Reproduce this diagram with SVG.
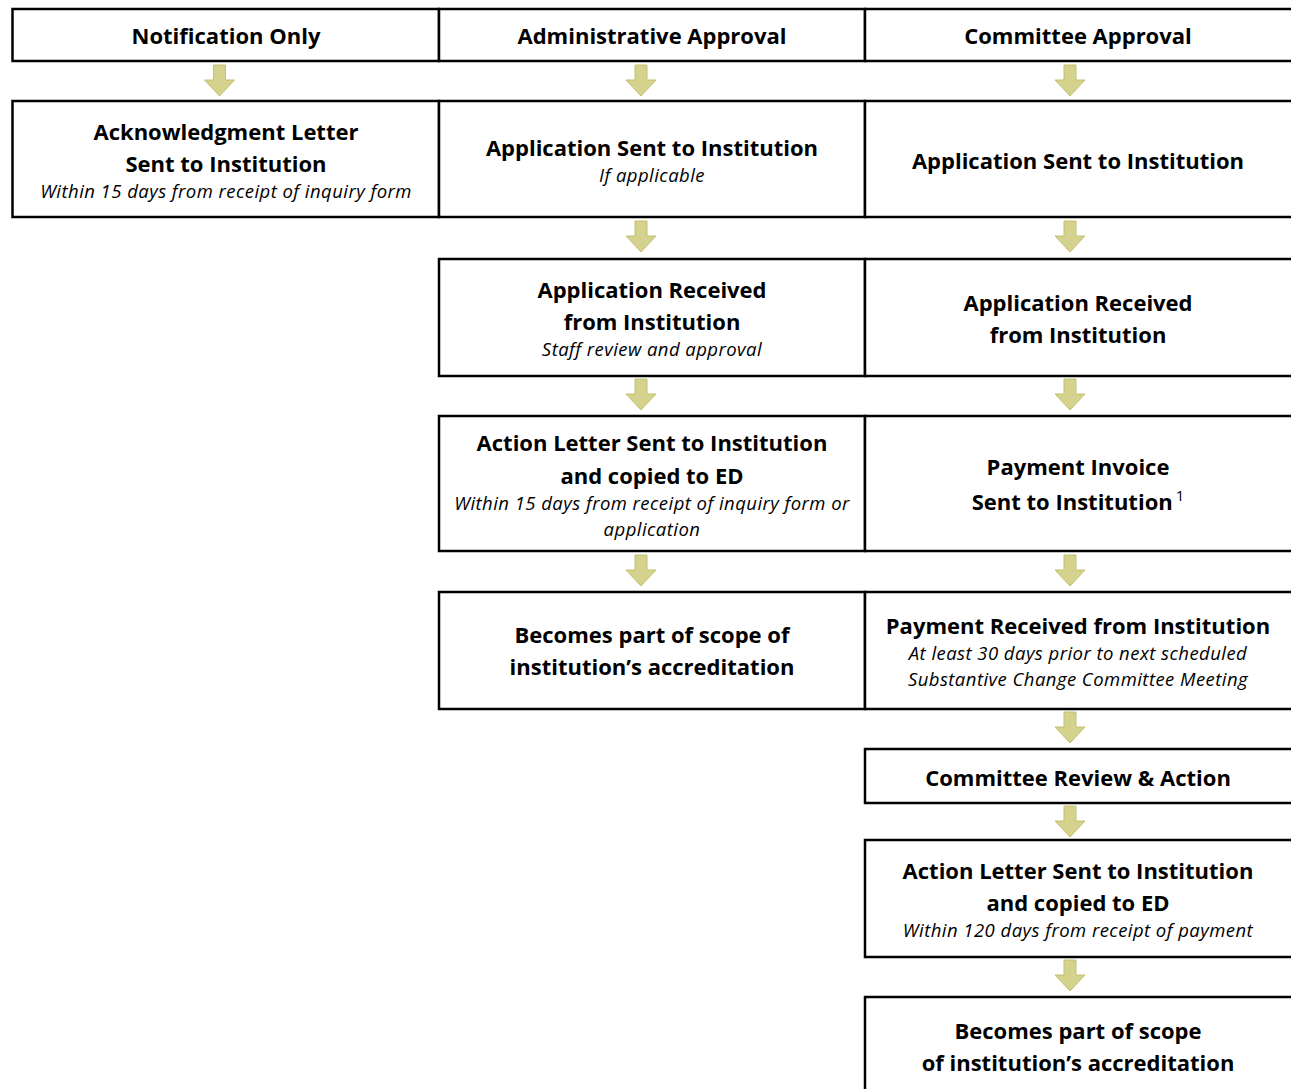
<svg xmlns="http://www.w3.org/2000/svg" width="1291" height="1089" viewBox="0 0 1291 1089">
<defs>
<style>
.box{fill:#fff;stroke:#000;stroke-width:2.5}
.b{font-family:"Open Sans",Lato,"Liberation Sans",sans-serif;font-weight:bold;font-size:22px;fill:#000;text-anchor:middle}
.i{font-family:"Open Sans",Lato,"Liberation Sans",sans-serif;font-style:italic;font-size:18.5px;letter-spacing:0.45px;fill:#000;text-anchor:middle}
.arr{fill:#d5d28d;stroke:#c4c071;stroke-width:1}
</style>
<path id="a" d="M-6,0 H6 V15 H15 L0,31 L-15,15 H-6 Z"/>
</defs>
<g id="connectors">
<use href="#a" class="arr" x="219.5" y="65"/>
<use href="#a" class="arr" x="641" y="65"/>
<use href="#a" class="arr" x="1070" y="65"/>
<use href="#a" class="arr" x="641" y="221"/>
<use href="#a" class="arr" x="1070" y="221"/>
<use href="#a" class="arr" x="641" y="379"/>
<use href="#a" class="arr" x="1070" y="379"/>
<use href="#a" class="arr" x="641" y="555"/>
<use href="#a" class="arr" x="1070" y="555"/>
<use href="#a" class="arr" x="1070" y="712"/>
<use href="#a" class="arr" x="1070" y="806"/>
<use href="#a" class="arr" x="1070" y="960"/>
</g>
<g id="h1"><rect class="box" x="12.5" y="9" width="426.5" height="52"/><text class="b" x="226" y="44">Notification Only</text></g>
<g id="h2"><rect class="box" x="439" y="9" width="426" height="52"/><text class="b" x="652" y="44">Administrative Approval</text></g>
<g id="h3"><rect class="box" x="865" y="9" width="430" height="52"/><text class="b" x="1078" y="44">Committee Approval</text></g>
<g id="n1a"><rect class="box" x="12.5" y="101" width="426.5" height="116"/><text class="b" x="226" y="140">Acknowledgment Letter</text><text class="b" x="226" y="172">Sent to Institution</text><text class="i" x="226" y="198">Within 15 days from receipt of inquiry form</text></g>
<g id="n2a"><rect class="box" x="439" y="101" width="426" height="116"/><text class="b" x="652" y="156">Application Sent to Institution</text><text class="i" x="652" y="182">If applicable</text></g>
<g id="n3a"><rect class="box" x="865" y="101" width="430" height="116"/><text class="b" x="1078" y="169">Application Sent to Institution</text></g>
<g id="n2b"><rect class="box" x="439" y="259" width="426" height="117"/><text class="b" x="652" y="298">Application Received</text><text class="b" x="652" y="330">from Institution</text><text class="i" x="652" y="356">Staff review and approval</text></g>
<g id="n3b"><rect class="box" x="865" y="259" width="430" height="117"/><text class="b" x="1078" y="311">Application Received</text><text class="b" x="1078" y="343">from Institution</text></g>
<g id="n2c"><rect class="box" x="439" y="416" width="426" height="135"/><text class="b" x="652" y="451">Action Letter Sent to Institution</text><text class="b" x="652" y="484">and copied to ED</text><text class="i" x="652" y="510">Within 15 days from receipt of inquiry form or</text><text class="i" x="652" y="536">application</text></g>
<g id="n3c"><rect class="box" x="865" y="416" width="430" height="135"/><text class="b" x="1078" y="475">Payment Invoice</text><text class="b" x="1078" y="510">Sent to Institution<tspan font-weight="normal" font-size="15" dx="3" dy="-9">1</tspan></text></g>
<g id="n2d"><rect class="box" x="439" y="592" width="426" height="117"/><text class="b" x="652" y="643">Becomes part of scope of</text><text class="b" x="652" y="675">institution’s accreditation</text></g>
<g id="n3d"><rect class="box" x="865" y="592" width="430" height="117"/><text class="b" x="1078" y="634">Payment Received from Institution</text><text class="i" x="1078" y="660">At least 30 days prior to next scheduled</text><text class="i" x="1078" y="686">Substantive Change Committee Meeting</text></g>
<g id="n3e"><rect class="box" x="865" y="749" width="430" height="54"/><text class="b" x="1078" y="786">Committee Review &amp; Action</text></g>
<g id="n3f"><rect class="box" x="865" y="840" width="430" height="117"/><text class="b" x="1078" y="879">Action Letter Sent to Institution</text><text class="b" x="1078" y="911">and copied to ED</text><text class="i" x="1078" y="937">Within 120 days from receipt of payment</text></g>
<g id="n3g"><rect class="box" x="865" y="997" width="430" height="120"/><text class="b" x="1078" y="1039">Becomes part of scope</text><text class="b" x="1078" y="1071">of institution’s accreditation</text></g>
</svg>
